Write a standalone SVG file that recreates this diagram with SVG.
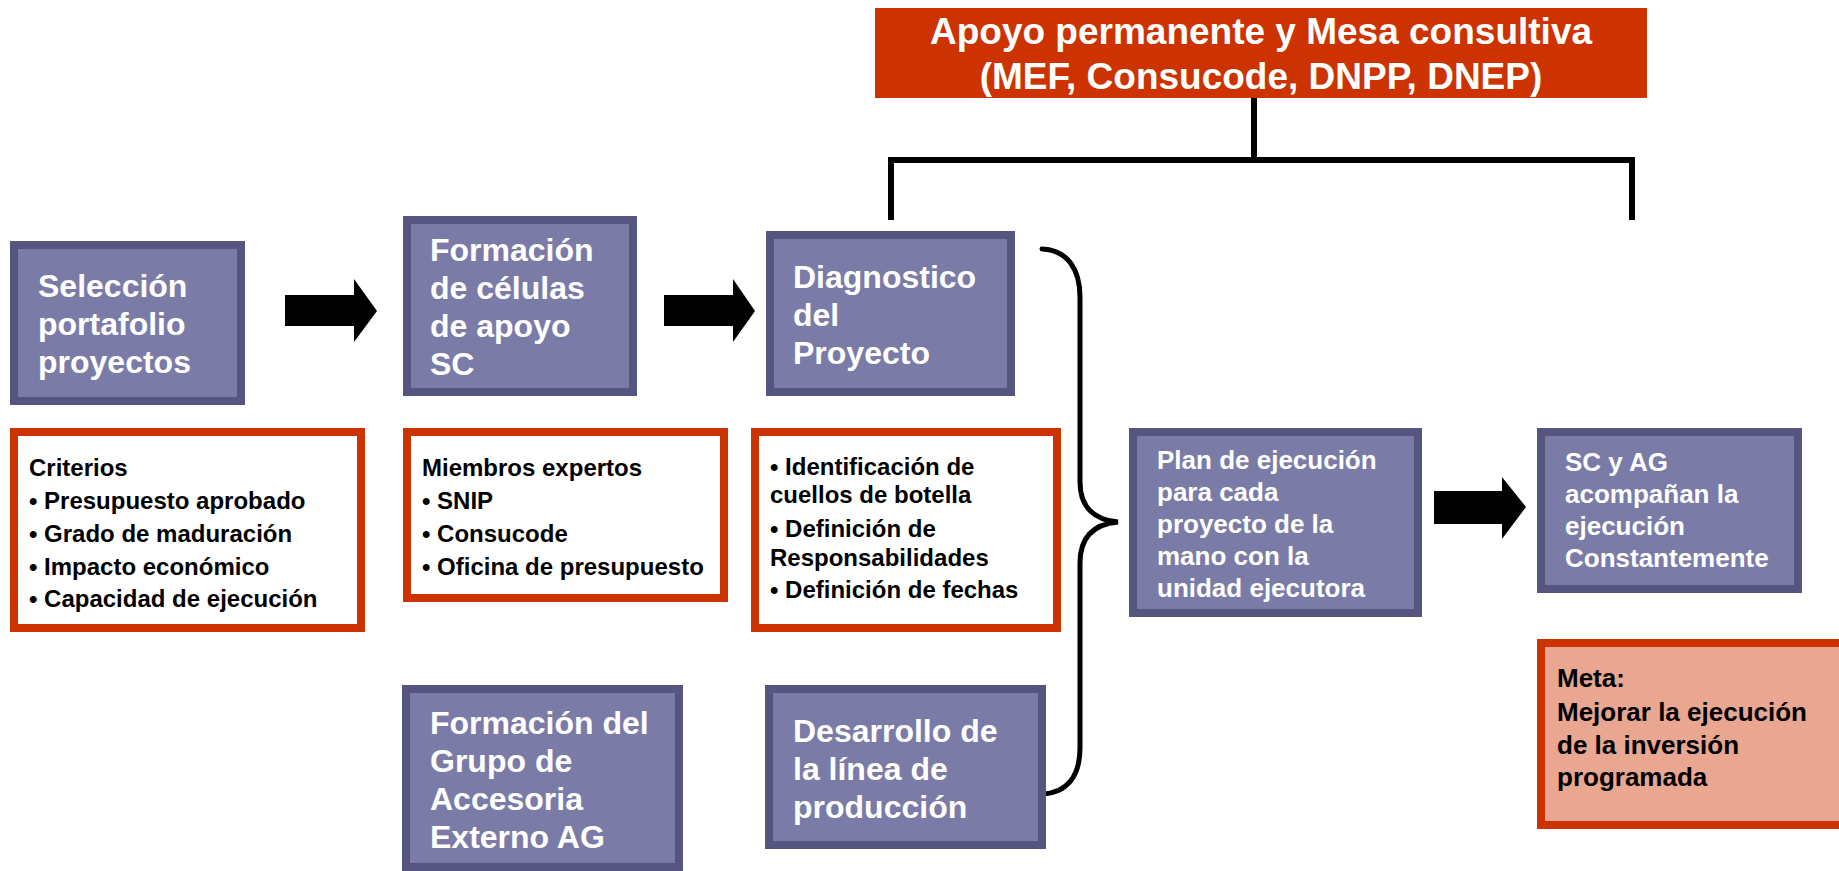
<svg xmlns="http://www.w3.org/2000/svg" width="1839" height="871" viewBox="0 0 1839 871">
<style>
.box{fill:#7b7ba8;stroke:#555580;stroke-width:8}
.rbox{fill:#ffffff;stroke:#cc3300;stroke-width:8}
.mbox{fill:#e9a690;stroke:#cc3300;stroke-width:8}
.t32{font-family:'Liberation Sans',Arial,sans-serif;font-weight:bold;font-size:32px;fill:#ffffff}
.t26{font-family:'Liberation Sans',Arial,sans-serif;font-weight:bold;font-size:26px;fill:#ffffff}
.t24{font-family:'Liberation Sans',Arial,sans-serif;font-weight:bold;font-size:24px;fill:#000000}
.m26{font-family:'Liberation Sans',Arial,sans-serif;font-weight:bold;font-size:26px;fill:#000000}
.t37{font-family:'Liberation Sans',Arial,sans-serif;font-weight:bold;font-size:37px;fill:#ffffff}
.ln{fill:none;stroke:#000000;stroke-width:6}
.brace{fill:none;stroke:#000000;stroke-width:5;stroke-linecap:round}
.arr{fill:#000000}
</style>
<rect width="1839" height="871" fill="#ffffff"/>

<g id="connectors">
  <path class="ln" d="M1254,98 V160 M888,160 H1635 M891,160 V220 M1632,160 V220"/>
  <path class="brace" d="M1042,249 C1068,250 1080,270 1080,297 L1080,482 C1080,508 1095,520 1118,522 C1095,524 1080,536 1080,563 L1080,748 C1080,775 1068,793 1042,794"/>
  <polygon class="arr" points="285,295 354,295 354,279 377,311 354,342 354,326 285,326"/>
  <polygon class="arr" points="664,295 733,295 733,279 755,311 733,342 733,326 664,326"/>
  <polygon class="arr" points="1434,491 1502,491 1502,477 1526,507 1502,539 1502,524 1434,524"/>
</g>

<g id="apoyo">
  <rect x="875" y="8" width="772" height="90" fill="#cc3300"/>
  <text class="t37" x="1261" y="44" text-anchor="middle">Apoyo permanente y Mesa consultiva</text>
  <text class="t37" x="1261" y="89" text-anchor="middle">(MEF, Consucode, DNPP, DNEP)</text>
</g>

<g id="seleccion">
  <rect class="box" x="14" y="245" width="227" height="156"/>
  <text class="t32" x="38" y="297">Selección</text>
  <text class="t32" x="38" y="335">portafolio</text>
  <text class="t32" x="38" y="373">proyectos</text>
</g>

<g id="formacion-celulas">
  <rect class="box" x="407" y="220" width="226" height="172"/>
  <text class="t32" x="430" y="261">Formación</text>
  <text class="t32" x="430" y="299">de células</text>
  <text class="t32" x="430" y="337">de apoyo</text>
  <text class="t32" x="430" y="375">SC</text>
</g>

<g id="diagnostico">
  <rect class="box" x="770" y="235" width="241" height="157"/>
  <text class="t32" x="793" y="288">Diagnostico</text>
  <text class="t32" x="793" y="326">del</text>
  <text class="t32" x="793" y="364">Proyecto</text>
</g>

<g id="criterios">
  <rect class="rbox" x="14" y="432" width="347" height="196"/>
  <text class="t24" x="29" y="476">Criterios</text>
  <text class="t24" x="29" y="509">• Presupuesto aprobado</text>
  <text class="t24" x="29" y="542">• Grado de maduración</text>
  <text class="t24" x="29" y="575">• Impacto económico</text>
  <text class="t24" x="29" y="607">• Capacidad de ejecución</text>
</g>

<g id="miembros">
  <rect class="rbox" x="407" y="432" width="317" height="166"/>
  <text class="t24" x="422" y="476">Miembros expertos</text>
  <text class="t24" x="422" y="509">• SNIP</text>
  <text class="t24" x="422" y="542">• Consucode</text>
  <text class="t24" x="422" y="575">• Oficina de presupuesto</text>
</g>

<g id="identificacion">
  <rect class="rbox" x="755" y="432" width="302" height="196"/>
  <text class="t24" x="770" y="475">• Identificación de</text>
  <text class="t24" x="770" y="503">cuellos de botella</text>
  <text class="t24" x="770" y="537">• Definición de</text>
  <text class="t24" x="770" y="566">Responsabilidades</text>
  <text class="t24" x="770" y="598">• Definición de fechas</text>
</g>

<g id="formacion-grupo">
  <rect class="box" x="406" y="689" width="273" height="178"/>
  <text class="t32" x="430" y="734">Formación del</text>
  <text class="t32" x="430" y="772">Grupo de</text>
  <text class="t32" x="430" y="810">Accesoria</text>
  <text class="t32" x="430" y="848">Externo AG</text>
</g>

<g id="desarrollo">
  <rect class="box" x="769" y="689" width="273" height="156"/>
  <text class="t32" x="793" y="742">Desarrollo de</text>
  <text class="t32" x="793" y="780">la línea de</text>
  <text class="t32" x="793" y="818">producción</text>
</g>

<g id="plan">
  <rect class="box" x="1133" y="432" width="285" height="181"/>
  <text class="t26" x="1157" y="469">Plan de ejecución</text>
  <text class="t26" x="1157" y="501">para cada</text>
  <text class="t26" x="1157" y="533">proyecto de la</text>
  <text class="t26" x="1157" y="565">mano con la</text>
  <text class="t26" x="1157" y="597">unidad ejecutora</text>
</g>

<g id="sc-ag">
  <rect class="box" x="1541" y="432" width="257" height="157"/>
  <text class="t26" x="1565" y="471">SC y AG</text>
  <text class="t26" x="1565" y="503">acompañan la</text>
  <text class="t26" x="1565" y="535">ejecución</text>
  <text class="t26" x="1565" y="567">Constantemente</text>
</g>

<g id="meta">
  <rect class="mbox" x="1541" y="643" width="310" height="182"/>
  <text class="m26" x="1557" y="687">Meta:</text>
  <text class="m26" x="1557" y="721">Mejorar la ejecución</text>
  <text class="m26" x="1557" y="754">de la inversión</text>
  <text class="m26" x="1557" y="786">programada</text>
</g>
</svg>
